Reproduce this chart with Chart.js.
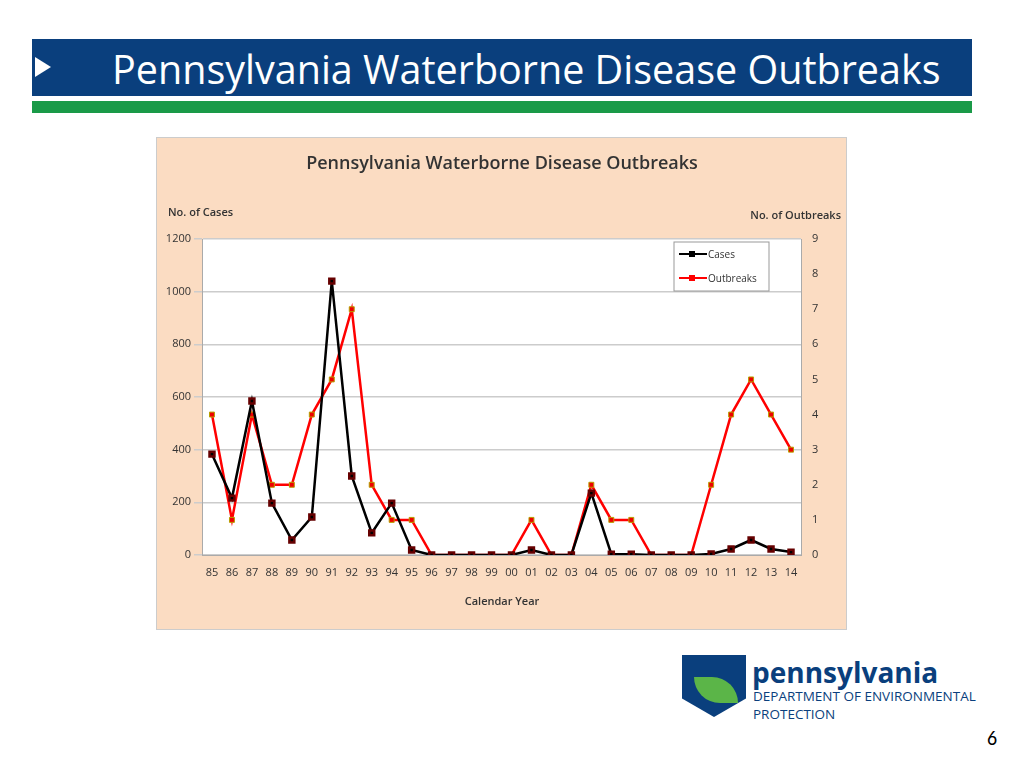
<!DOCTYPE html>
<html><head><meta charset="utf-8">
<script src="https://cdn.jsdelivr.net/npm/chart.js@4"></script>
<style>
body{margin:0;width:1024px;height:768px;background:#fff;position:relative;overflow:hidden;font-family:Calibri,'Liberation Sans',Carlito,sans-serif}
#hdr{position:absolute;left:32px;top:39px;width:940px;height:57px;background:#0a3f7d;color:#fff;font-size:39.5px;line-height:57px;font-family:'Open Sans','Noto Sans',sans-serif}
#hdr span{position:absolute;left:80px;top:2px}
#arrow{position:absolute;left:3px;top:18px;width:0;height:0;border-top:10px solid transparent;border-bottom:10px solid transparent;border-left:16px solid #fff}
#grn{position:absolute;left:32px;top:101px;width:940px;height:12px;background:#1a9a48}
#box{position:absolute;left:156px;top:137px;width:691px;height:493px;background:#fbdcc2;border:1px solid #ccc;box-sizing:border-box}
#c{position:absolute;left:0;top:0}
#logo{position:absolute;left:682px;top:655px;width:64px;height:62px;background:#0a3f7d;clip-path:polygon(0 0,100% 0,100% 70%,50% 100%,0 70%)}
#leaf{position:absolute;left:12px;top:22px;width:44px;height:26px;background:#5bb548;border-radius:0 40px 0 40px}
#lt1{position:absolute;left:752px;top:653px;font-size:28px;font-weight:bold;color:#0a3f7d;font-family:'Open Sans',sans-serif}
#lt2{position:absolute;left:753px;top:687px;font-size:13.5px;color:#0a3f7d;font-family:'Open Sans',sans-serif;line-height:18px}
#pg{position:absolute;left:987px;top:726px;font-size:20px;color:#000}
</style></head><body>
<div id="hdr"><div id="arrow"></div><span>Pennsylvania Waterborne Disease Outbreaks</span></div>
<div id="grn"></div>
<div id="box"><canvas id="c" width="691" height="493"></canvas></div>
<div id="logo"><div id="leaf"></div></div>
<div id="lt1">pennsylvania</div>
<div id="lt2">DEPARTMENT OF ENVIRONMENTAL<br>PROTECTION</div>
<div id="pg">6</div>
<script>
const years=['85','86','87','88','89','90','91','92','93','94','95','96','97','98','99','00','01','02','03','04','05','06','07','08','09','10','11','12','13','14'];
const cases=[383,216,585,197,57,144,1040,300,84,197,19,0,0,0,0,0,19,0,0,235,3,3,0,0,0,4,23,57,23,11];
const outbreaks=[4,1,4,2,2,4,5,7,2,1,1,0,0,0,0,0,1,0,0,2,1,1,0,0,0,2,4,5,4,3];
const F="'Open Sans',sans-serif";
const deco={id:'deco',afterDraw(ch){const c=ch.ctx;c.save();c.fillStyle='#333';
c.font="600 18px "+F;c.textAlign='center';c.fillText('Pennsylvania Waterborne Disease Outbreaks',345,31);
c.font="600 11px "+F;c.textAlign='left';c.fillText('No. of Cases',11,78);c.textAlign='right';c.fillText('No. of Outbreaks',684,81);
c.textAlign='center';c.fillText('Calendar Year',345,467);
c.fillStyle='#fff';c.strokeStyle='#999';c.fillRect(517,104,95,49);c.strokeRect(517,104,95,49);
[['#000','Cases',116],['#f00','Outbreaks',140]].forEach(([col,t,y])=>{c.strokeStyle=col;c.lineWidth=2;c.beginPath();c.moveTo(522,y);c.lineTo(550,y);c.stroke();c.fillStyle=col;c.fillRect(532,y-3,6,6);c.fillStyle='#333';c.font="10px "+F;c.textAlign='left';c.fillText(t,551,y+4);});
c.restore();}};
new Chart(document.getElementById('c'),{type:'line',data:{labels:years,datasets:[
{label:'Cases',data:cases,yAxisID:'y',borderColor:'#000',backgroundColor:'#000',borderWidth:2.5,pointStyle:'rect',pointRadius:3.5,pointBorderColor:'#600',tension:0},
{label:'Outbreaks',data:outbreaks,yAxisID:'y1',borderColor:'#f00',backgroundColor:'#e00',borderWidth:2.5,pointStyle:'rect',pointRadius:3.5,pointBorderColor:'#b8a000',pointBorderWidth:1,tension:0}]},
options:{responsive:false,animation:false,layout:{padding:{top:101,left:0,right:0,bottom:0}},plugins:{legend:{display:false},tooltip:{enabled:false}},
scales:{x:{offset:true,grid:{display:false},border:{color:'#aaa'},ticks:{color:'#333',font:{size:11,family:F},maxRotation:0,autoSkip:false},afterFit(s){s.height=76}},
y:{position:'left',min:0,max:1200,ticks:{stepSize:200,color:'#333',font:{size:11,family:F},callback:v=>String(v)},grid:{color:'#ccc',lineWidth:1.5},border:{color:'#aaa'},afterFit(s){s.width=45}},
y1:{position:'right',min:0,max:9,ticks:{stepSize:1,color:'#333',font:{size:11,family:F}},grid:{display:false},border:{color:'#aaa'},afterFit(s){s.width=47}}}},
plugins:[deco,{id:'bg',beforeDraw(ch){const a=ch.chartArea;ch.ctx.fillStyle='#fff';ch.ctx.fillRect(a.left,a.top,a.width,a.height);}}]});
</script></body></html>
